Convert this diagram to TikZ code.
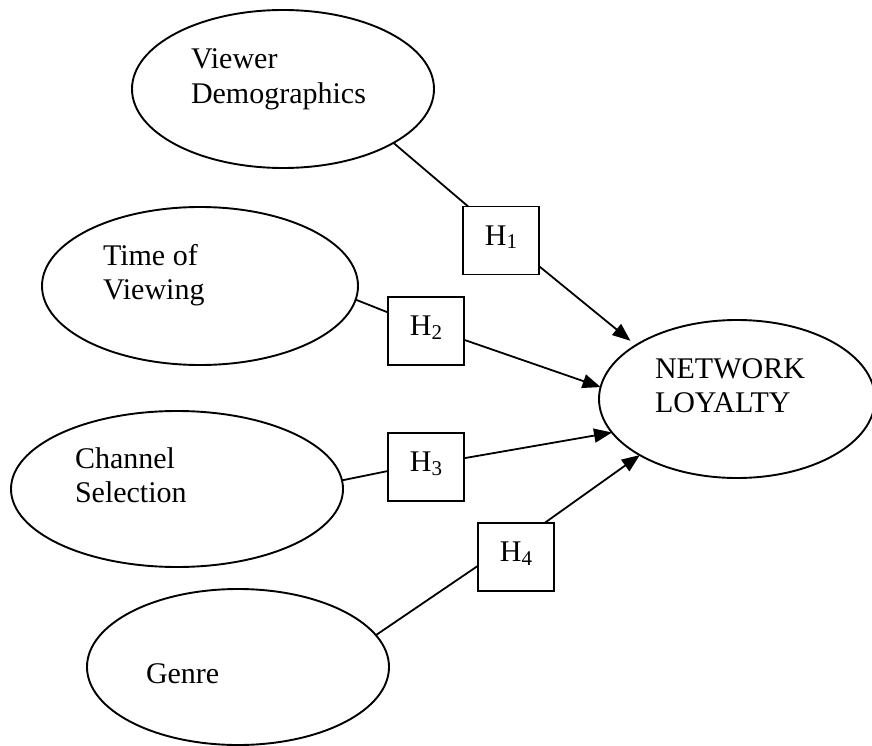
\documentclass[tikz,border=0pt]{standalone}
\usepackage{fontspec}
\setmainfont{Liberation Serif}
\usetikzlibrary{arrows.meta,shapes.geometric}
\newcommand\Hsub[1]{H\raisebox{-3.5pt}{\fontsize{21}{21}\selectfont #1}}
\begin{document}
\begin{tikzpicture}[x=1pt,y=-1pt,
  oval/.style={draw,ellipse,line width=1.9pt,inner sep=0pt,outer sep=0pt},
  hbox/.style={draw,rectangle,line width=1.9pt,minimum width=76pt,minimum height=68pt,
    inner sep=0pt,outer sep=0pt,text height=20pt,text depth=11pt,
    font=\fontsize{30}{34.5}\selectfont},
  lbl/.style={anchor=north west,align=left,inner sep=0pt,outer sep=0pt,
    font=\fontsize{30}{34.5}\selectfont},
  link/.style={line width=1.8pt},
  arr/.style={line width=1.8pt,-{Triangle[length=18pt,width=14pt]}}]
\useasboundingbox (0,0) rectangle (872,746);

% ellipses
\node[oval,minimum width=302pt,minimum height=158pt] (vd) at (283,89) {};
\node[oval,minimum width=316pt,minimum height=158pt] (tv) at (200,286) {};
\node[oval,minimum width=332pt,minimum height=156pt] (cs) at (177,489) {};
\node[oval,minimum width=302pt,minimum height=156pt] (g)  at (238,667) {};
\node[oval,minimum width=276pt,minimum height=158pt] (nl) at (737,399) {};

% ellipse texts
\node[lbl] (vdt) at (191,44.85) {\strut Viewer\\Demographics};
\node[lbl] (tvt) at (103,240.85) {\strut Time of\\Viewing};
\node[lbl] (cst) at (75,443.85) {\strut Channel\\Selection};
\node[lbl] (gt)  at (146,658.85) {\strut Genre};
\node[lbl] (nlt) at (655,353.85) {\strut NETWORK\\LOYALTY};

% hypothesis boxes
\node[hbox] (h1) at (501,240.5) {\Hsub{1}};
\node[hbox] (h2) at (426,331) {\Hsub{2}};
\node[hbox] (h3) at (426,467) {\Hsub{3}};
\node[hbox] (h4) at (516,557) {\Hsub{4}};

% connectors
\draw[link] (vd.-26) -- (h1.134.6);
\draw[arr,shorten >=7pt] (h1.-34.2) -- (nl.152.4);
\draw[link] (tv.-5.9) -- (h2.154.6);
\draw[arr] (h2.-13.3) -- (nl.175);
\draw[link] (cs.3.8) -- (h3.186);
\draw[arr] (h3.13.3) -- (nl.195.5);
\draw[link] (g.13.9) -- (h4.193.3);
\draw[arr] (h4.50.5) -- (nl.210.8);
\end{tikzpicture}
\end{document}
